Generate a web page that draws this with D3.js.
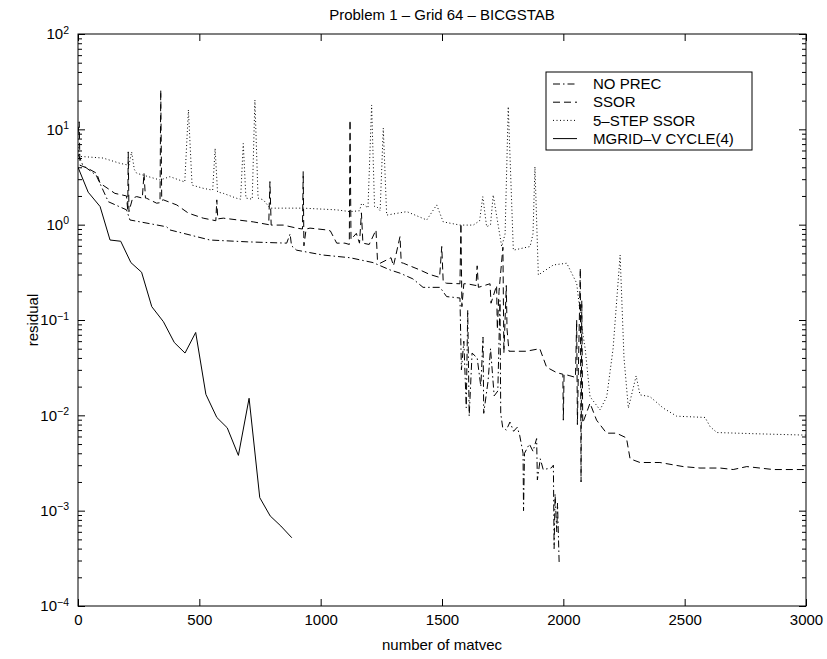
<!DOCTYPE html>
<html><head><meta charset="utf-8">
<script src="https://cdn.jsdelivr.net/npm/d3@7"></script>
<style>body{margin:0;background:#fff} text{font-family:"Liberation Sans",Arial,Helvetica,sans-serif}</style>
</head><body><svg id="chart" width="827" height="659"></svg>
<script>
const titleText = "Problem 1 – Grid 64 – BICGSTAB";
const xLabel = "number of matvec";
const yLabel = "residual";
const seriesNames = ["NO PREC", "SSOR", "5–STEP SSOR", "MGRID–V CYCLE(4)"];
const xTicks = [0, 500, 1000, 1500, 2000, 2500, 3000];
const yTicks = [1e-4, 1e-3, 1e-2, 1e-1, 1, 10, 100];

// [matvec, residual]
const noPrec = [[0,5.5],[20,4.2],[75,3.3],[100,2.4],[125,1.74],[200,1.43],[214,1.12],[365,0.95],[379,0.88],[544,0.69],[700,0.66],[860,0.64],[874,0.8],[880,0.6],[901,0.54],[1010,0.48],[1121,0.45],[1216,0.40],[1286,0.335],[1327,0.31],[1380,0.27],[1422,0.22],[1492,0.22],[1519,0.176],[1574,0.17],[1580,0.03],[1590,0.06],[1600,0.012],[1606,0.127],[1612,0.0098],[1624,0.045],[1645,0.04],[1660,0.02],[1669,0.066],[1672,0.0105],[1690,0.023],[1700,0.05],[1715,0.016],[1730,0.018],[1739,0.16],[1742,0.0105],[1750,0.0075],[1765,0.007],[1780,0.0085],[1795,0.0068],[1810,0.0075],[1820,0.0062],[1834,0.004],[1836,0.001],[1840,0.004],[1860,0.005],[1875,0.0042],[1890,0.0057],[1893,0.0021],[1905,0.0035],[1917,0.0027],[1950,0.0028],[1959,0.003],[1962,0.0004],[1966,0.0015],[1973,0.0006],[1976,0.0012],[1983,0.00027]];

const ssor = [[0,9.0],[5,12],[8,4.2],[40,3.9],[77,3.46],[91,2.72],[132,2.31],[152,2.13],[200,2.0],[205,1.4],[207,5.8],[210,1.37],[225,1.9],[242,1.97],[265,1.9],[272,3.46],[278,1.9],[283,1.89],[324,1.68],[338,1.7],[341,25.9],[345,1.8],[352,1.82],[407,1.61],[455,1.32],[516,1.17],[568,1.1],[572,1.82],[576,1.15],[599,1.17],[722,1.07],[786,1.0],[791,2.83],[796,0.99],[846,0.99],[901,0.92],[925,0.9],[928,3.6],[931,0.6],[940,0.9],[956,0.92],[1025,0.88],[1040,0.86],[1066,0.64],[1100,0.64],[1118,0.62],[1121,12.5],[1125,0.7],[1147,0.81],[1160,0.64],[1168,1.33],[1174,0.64],[1200,0.62],[1228,0.88],[1234,0.43],[1245,0.394],[1290,0.45],[1300,0.37],[1327,0.75],[1332,0.4],[1341,0.394],[1409,0.335],[1450,0.3],[1490,0.28],[1499,0.59],[1505,0.25],[1519,0.243],[1574,0.24],[1578,1.03],[1582,0.138],[1590,0.24],[1603,0.24],[1640,0.23],[1645,0.37],[1650,0.22],[1698,0.24],[1702,0.15],[1725,0.23],[1728,0.08],[1735,0.2],[1751,0.58],[1755,0.045],[1765,0.23],[1768,0.08],[1776,0.047],[1846,0.047],[1903,0.05],[1931,0.032],[1973,0.028],[1998,0.027],[2000,0.0089],[2003,0.027],[2027,0.026],[2050,0.025],[2055,0.1],[2058,0.008],[2062,0.03],[2070,0.35],[2073,0.002],[2076,0.16],[2080,0.0083],[2110,0.0134],[2137,0.0089],[2178,0.0065],[2219,0.0065],[2260,0.0058],[2275,0.0035],[2316,0.0032],[2398,0.0032],[2494,0.0029],[2563,0.0028],[2646,0.0028],[2700,0.0027],[2756,0.0029],[2865,0.0027],[3000,0.0027]];

const ssor5 = [[0,6.5],[8,5.2],[103,5.0],[173,4.4],[210,4.2],[221,5.8],[232,3.8],[242,3.46],[338,2.94],[379,3.19],[440,2.8],[455,16.0],[470,2.6],[515,2.41],[555,2.3],[565,6.3],[575,2.2],[599,2.13],[654,1.89],[670,1.85],[681,7.1],[692,1.9],[718,1.85],[729,20.3],[742,1.9],[764,1.82],[791,1.49],[928,1.49],[1066,1.43],[1121,1.37],[1160,1.4],[1169,1.68],[1195,1.5],[1210,18.0],[1222,1.55],[1231,1.55],[1245,1.4],[1258,10.3],[1272,1.26],[1355,1.37],[1437,1.12],[1478,1.61],[1505,1.07],[1574,0.99],[1629,0.99],[1655,1.1],[1668,1.97],[1684,0.95],[1700,1.0],[1711,2.05],[1746,0.59],[1760,0.8],[1773,17.3],[1794,0.54],[1863,0.59],[1875,0.8],[1883,4.06],[1897,0.297],[1959,0.378],[2014,0.394],[2055,0.243],[2076,0.085],[2090,0.05],[2110,0.0157],[2151,0.0114],[2179,0.0157],[2205,0.05],[2234,0.48],[2250,0.04],[2268,0.0119],[2300,0.0259],[2316,0.0164],[2357,0.0157],[2412,0.0119],[2467,0.0098],[2584,0.0095],[2605,0.0076],[2633,0.0066],[2800,0.0064],[3000,0.0062]];

const mgrid = [[0,4.0],[42,2.19],[91,1.55],[132,0.69],[176,0.67],[218,0.40],[262,0.317],[304,0.138],[352,0.096],[397,0.058],[441,0.045],[485,0.074],[527,0.0166],[572,0.0095],[615,0.0074],[661,0.0038],[705,0.0151],[749,0.00137],[792,0.00088],[836,0.00069],[881,0.00052]];

const seriesData = [noPrec, ssor, ssor5, mgrid];
const dashes = ["7,3,1.5,3", "7,4", "1,2.5", null];

const L = 78, R = 806, T = 34, B = 606;
const svg = d3.select("#chart");
svg.append("rect").attr("width",827).attr("height",659).attr("fill","#fff");
const x = d3.scaleLinear().domain([0,3000]).range([L,R]);
const y = d3.scaleLog().domain([1e-4,1e2]).range([B,T]);

svg.append("defs").append("clipPath").attr("id","clip")
  .append("rect").attr("x",L).attr("y",T).attr("width",R-L).attr("height",B-T);

const minorTicks = [];
for (let e=-4; e<2; e++) for (let k=2; k<10; k++) minorTicks.push(k*Math.pow(10,e));

function style(g){ g.select(".domain").remove(); g.selectAll("line").attr("stroke","#000"); g.selectAll("text").attr("font-size",15).attr("fill","#000").attr("font-family",null); }

svg.append("g").attr("transform",`translate(0,${B})`)
  .call(d3.axisBottom(x).tickValues(xTicks).tickSize(-7).tickPadding(8).tickFormat(d3.format("d"))).call(style);
svg.append("g").attr("transform",`translate(0,${T})`)
  .call(d3.axisTop(x).tickValues(xTicks).tickSize(-7).tickFormat("")).call(style);

const yl = svg.append("g").attr("transform",`translate(${L},0)`)
  .call(d3.axisLeft(y).tickValues(yTicks).tickSize(-7).tickPadding(9)).call(style);
yl.selectAll(".tick text").each(function(d){
  const t = d3.select(this).text(null);
  const e = Math.round(Math.log10(d));
  t.append("tspan").text("10");
  t.append("tspan").attr("dy","-0.55em").attr("font-size",10.5).text(e<0 ? "−"+(-e) : String(e));
});
svg.append("g").attr("transform",`translate(${L},0)`)
  .call(d3.axisLeft(y).tickValues(minorTicks).tickSize(-4).tickFormat("")).call(style);
svg.append("g").attr("transform",`translate(${R},0)`)
  .call(d3.axisRight(y).tickValues(yTicks).tickSize(-7).tickFormat("")).call(style);
svg.append("g").attr("transform",`translate(${R},0)`)
  .call(d3.axisRight(y).tickValues(minorTicks).tickSize(-4).tickFormat("")).call(style);

svg.append("rect").attr("x",L).attr("y",T).attr("width",R-L).attr("height",B-T)
  .attr("fill","none").attr("stroke","#000").attr("stroke-width",1);

const line = d3.line().x(d=>x(d[0])).y(d=>y(d[1]));
const plot = svg.append("g").attr("clip-path","url(#clip)");
seriesData.forEach((s,i)=>{
  plot.append("path").datum(s).attr("d",line).attr("fill","none")
    .attr("stroke","#000").attr("stroke-width",1)
    .attr("stroke-dasharray",dashes[i]);
});

// legend
const lg = svg.append("g");
lg.append("rect").attr("x",546).attr("y",72).attr("width",206).attr("height",78)
  .attr("fill","#fff").attr("stroke","#000").attr("stroke-width",1);
seriesNames.forEach((n,i)=>{
  const yy = 84 + i*18.2;
  lg.append("line").attr("x1",553).attr("x2",577).attr("y1",yy).attr("y2",yy)
    .attr("stroke","#000").attr("stroke-width",1).attr("stroke-dasharray",dashes[i]);
  lg.append("text").attr("x",593).attr("y",yy).attr("dy","0.35em").attr("font-size",15).text(n);
});

svg.append("text").attr("x",(L+R)/2).attr("y",20).attr("text-anchor","middle").attr("font-size",15).text(titleText);
svg.append("text").attr("x",(L+R)/2).attr("y",650).attr("text-anchor","middle").attr("font-size",15).text(xLabel);
svg.append("text").attr("transform",`translate(38,${(T+B)/2}) rotate(-90)`).attr("text-anchor","middle").attr("font-size",15).text(yLabel);
</script></body></html>
